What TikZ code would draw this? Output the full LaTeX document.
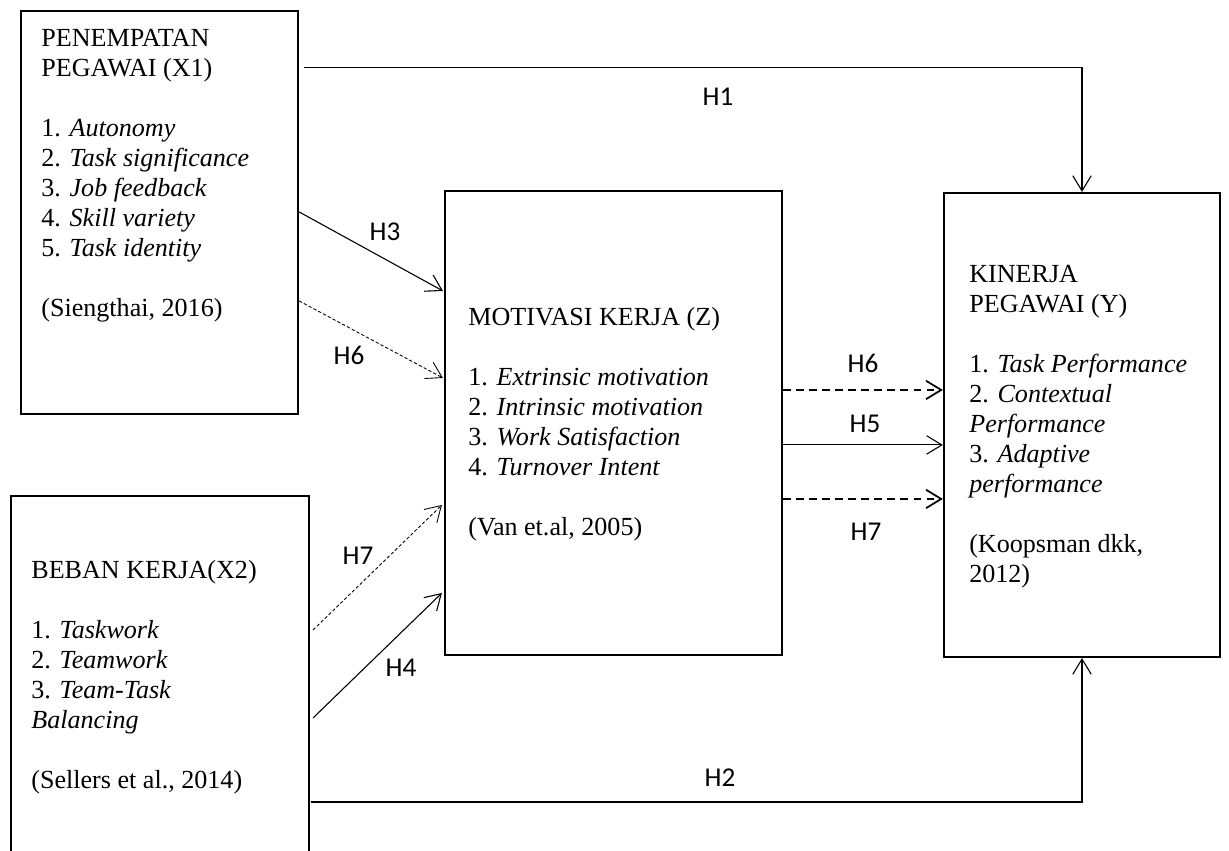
\documentclass[tikz,border=0pt]{standalone}
\usepackage{fontspec}
\setmainfont{Liberation Serif}
\newfontfamily\hfont{Carlito}
\usetikzlibrary{arrows.meta,calc}

\begin{document}
\begin{tikzpicture}[x=0.46pt,y=-0.46pt,
  box/.style={draw,line width=1pt,inner sep=0pt},
  txt/.style={anchor=north west,inner sep=0pt,align=left,font=\fontsize{12}{13.8}\selectfont},
  lb/.style={font=\hfont\fontsize{12.5}{14}\selectfont,inner sep=0pt},
  ar/.style={line width=0.5pt,-{Straight Barb[length=7pt,width=8.5pt]}},
  fd/.style={ar,line width=0.4pt,dash pattern=on 1.5pt off 1pt},
  bd/.style={ar,line width=0.8pt,dash pattern=on 3.5pt off 2.5pt}
]
\useasboundingbox (0,0) rectangle (1229,851);
% ---- boxes ----
\node[box,minimum width=127.4pt,minimum height=185.4pt] (x1) at (159.5,212.5) {};
\node[box,minimum width=137.2pt,minimum height=172pt] (x2) at (159.85,683) {};
\node[box,minimum width=155pt,minimum height=213.4pt] (z) at (613.5,423) {};
\node[box,minimum width=127pt,minimum height=213.4pt] (y) at (1082,425) {};
% ---- box texts ----
\node[txt] (x1t) at ($(x1.north west)+(21,19)$) {PENEMPATAN\\PEGAWAI (X1)\\[13.8pt]
  1. \textit{Autonomy}\\2. \textit{Task significance}\\3. \textit{Job feedback}\\
  4. \textit{Skill variety}\\5. \textit{Task identity}\\[13.8pt](Siengthai, 2016)};
\node[txt] (x2t) at ($(x2.north west)+(21.3,65)$) {BEBAN KERJA(X2)\\[13.8pt]
  1. \textit{Taskwork}\\2. \textit{Teamwork}\\3. \textit{Team-Task}\\
  \textit{Balancing}\\[13.8pt](Sellers et al., 2014)};
\node[txt] (zt) at ($(z.north west)+(24,117)$) {MOTIVASI KERJA (Z)\\[13.8pt]
  1. \textit{Extrinsic motivation}\\2. \textit{Intrinsic motivation}\\
  3. \textit{Work Satisfaction}\\4. \textit{Turnover Intent}\\[13.8pt](Van et.al, 2005)};
\node[txt] (yt) at ($(y.north west)+(26,73)$) {KINERJA\\PEGAWAI (Y)\\[13.8pt]
  1. \textit{Task Performance}\\2. \textit{Contextual}\\\textit{Performance}\\
  3. \textit{Adaptive}\\\textit{performance}\\[13.8pt](Koopsman dkk,\\2012)};
% ---- direct paths ----
\draw[ar] ($(x1.north east)+(5,58)$) -| (y.north);
\draw[ar] ($(x2.north east)+(1,307)$) -| (y.south);
\node[lb] (h1) at (718,97) {H1};
\node[lb] (h2) at (720,778) {H2};
% ---- into Z ----
\draw[ar] ($(x1.north east)+(0,202)$) -- ($(z.north west)+(-1,101)$);
\draw[fd] ($(x1.north east)+(0,291)$) -- ($(z.north west)+(-1,188)$);
\draw[fd] ($(x2.north east)+(3,135)$) -- ($(z.north west)+(-2,315)$);
\draw[ar] ($(x2.north east)+(3,223)$) -- ($(z.north west)+(-2,403)$);
\node[lb] (h3) at (385,232) {H3};
\node[lb] (h6a) at (349,355) {H6};
\node[lb] (h7a) at (358,556) {H7};
\node[lb] (h4) at (401,668) {H4};
% ---- Z to Y ----
\draw[bd] ($(z.north east)+(0,200)$) -- ($(y.north west)+(0,198)$);
\draw[ar] ($(z.north east)+(0,255)$) -- ($(y.north west)+(0,253)$);
\draw[bd] ($(z.north east)+(0,309)$) -- ($(y.north west)+(0,307)$);
\node[lb] (h6b) at (863,363) {H6};
\node[lb] (h5) at (865,424) {H5};
\node[lb] (h7b) at (866,532) {H7};
\end{tikzpicture}
\end{document}
